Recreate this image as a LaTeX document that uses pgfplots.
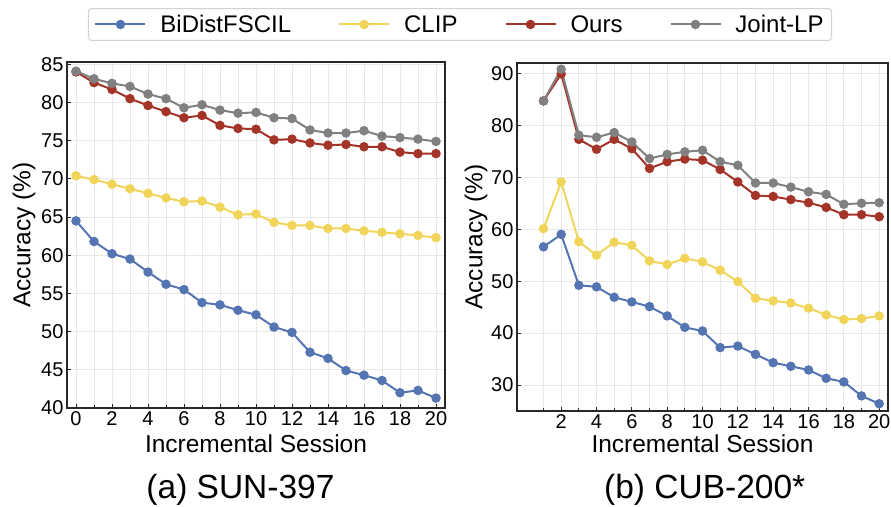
\documentclass[border=0pt]{standalone}
\usepackage{fontspec}
\setmainfont{Liberation Sans}
\usepackage{pgfplots}
\pgfplotsset{compat=1.18}
\definecolor{cblue}{RGB}{84,117,178}
\definecolor{cyellow}{RGB}{240,213,90}
\definecolor{cred}{RGB}{165,52,40}
\definecolor{cgray}{RGB}{128,128,128}
\definecolor{gridc}{RGB}{232,232,232}
\definecolor{framec}{RGB}{40,40,40}
\pgfplotsset{
  mystyle/.style={
    scale only axis,
    /pgf/number format/assume math mode=true,
    tick label style={font=\fontsize{20bp}{24bp}\selectfont},
    label style={font=\fontsize{24.5bp}{28bp}\selectfont},
    axis line style={framec, line width=1.4bp},
    grid=both,
    major grid style={gridc, line width=0.9bp},
    minor grid style={gridc, line width=0.9bp},
    tick style={framec, line width=0.8bp},
    major tick length=4bp, minor tick length=3bp,
    tick align=inside,
    tick pos=left,
    every axis plot/.append style={line width=2bp, mark=*, mark size=3.7bp},
    legend image code/.code={\draw[mark repeat=2,mark phase=2] plot coordinates {(0bp,0bp) (25bp,0bp) (50bp,0bp)};},
  }
}
\begin{document}
\begin{tikzpicture}[x=1bp,y=1bp]
\useasboundingbox (0,0) rectangle (891,507);
% ---------------- (a) SUN-397 ----------------
\begin{axis}[mystyle,
  at={(67bp,99bp)}, anchor=south west,
  width=378bp, height=346bp,
  xmin=-0.5, xmax=20.5, ymin=40, ymax=85.3,
  xtick={0,2,...,20}, minor xtick={1,3,...,19},
  ytick={40,45,...,85},
  xlabel={Incremental Session}, ylabel={Accuracy (\%)},
  xlabel style={at={(axis description cs:0.5,-0.129)}, anchor=base},
  ylabel style={at={(axis description cs:-0.1138,0.5)}, anchor=center},
  legend columns=4,
  legend style={at={(axis description cs:1.0397,1.1084)}, anchor=center,
    draw={rgb,255:red,210;green,210;blue,210}, line width=1bp, rounded corners=3bp,
    font=\fontsize{24bp}{28bp}\selectfont,
    inner xsep=6bp, inner ysep=4.5bp,
    /tikz/every even column/.append style={column sep=45bp},
    /tikz/every odd column/.append style={column sep=12bp}},
]
\addplot[color=cblue] coordinates {(0,64.5)(1,61.8)(2,60.2)(3,59.5)(4,57.8)(5,56.2)(6,55.5)(7,53.8)(8,53.5)(9,52.8)(10,52.2)(11,50.6)(12,49.9)(13,47.3)(14,46.5)(15,44.9)(16,44.3)(17,43.6)(18,42.0)(19,42.3)(20,41.3)};
\addlegendentry{BiDistFSCIL}
\addplot[color=cyellow] coordinates {(0,70.4)(1,69.9)(2,69.3)(3,68.7)(4,68.1)(5,67.5)(6,67.0)(7,67.1)(8,66.3)(9,65.3)(10,65.4)(11,64.3)(12,63.9)(13,63.9)(14,63.5)(15,63.5)(16,63.2)(17,63.0)(18,62.8)(19,62.6)(20,62.3)};
\addlegendentry{CLIP}
\addplot[color=cred] coordinates {(0,84.0)(1,82.6)(2,81.7)(3,80.5)(4,79.6)(5,78.8)(6,78.0)(7,78.3)(8,77.0)(9,76.6)(10,76.5)(11,75.1)(12,75.2)(13,74.7)(14,74.4)(15,74.5)(16,74.2)(17,74.2)(18,73.5)(19,73.3)(20,73.3)};
\addlegendentry{Ours}
\addplot[color=cgray] coordinates {(0,84.1)(1,83.1)(2,82.5)(3,82.1)(4,81.1)(5,80.5)(6,79.3)(7,79.7)(8,79.0)(9,78.6)(10,78.7)(11,78.0)(12,77.9)(13,76.4)(14,76.0)(15,76.0)(16,76.3)(17,75.6)(18,75.4)(19,75.2)(20,74.9)};
\addlegendentry{Joint-LP}
\end{axis}
% ---------------- (b) CUB-200* ----------------
\begin{axis}[mystyle,
  at={(517bp,96bp)}, anchor=south west,
  width=371bp, height=348bp,
  xmin=-0.5, xmax=20.5, ymin=25, ymax=92,
  xtick={2,4,...,20}, minor xtick={1,3,...,19},
  ytick={30,40,...,90},
  xlabel={Incremental Session}, ylabel={Accuracy (\%)},
  xlabel style={at={(axis description cs:0.5,-0.12)}, anchor=base},
  ylabel style={at={(axis description cs:-0.1105,0.5)}, anchor=center},
]
\addplot[color=cblue] coordinates {(1,56.6)(2,59.0)(3,49.2)(4,48.9)(5,46.9)(6,46.0)(7,45.1)(8,43.3)(9,41.1)(10,40.4)(11,37.2)(12,37.5)(13,35.9)(14,34.3)(15,33.6)(16,32.9)(17,31.3)(18,30.6)(19,27.9)(20,26.4)};
\addplot[color=cyellow] coordinates {(1,60.1)(2,69.1)(3,57.6)(4,55.0)(5,57.5)(6,56.9)(7,53.9)(8,53.2)(9,54.4)(10,53.7)(11,52.1)(12,49.9)(13,46.7)(14,46.2)(15,45.8)(16,44.8)(17,43.5)(18,42.6)(19,42.8)(20,43.3)};
\addplot[color=cred] coordinates {(1,84.7)(2,89.9)(3,77.3)(4,75.4)(5,77.3)(6,75.5)(7,71.7)(8,73.0)(9,73.5)(10,73.3)(11,71.5)(12,69.1)(13,66.5)(14,66.3)(15,65.7)(16,65.1)(17,64.2)(18,62.8)(19,62.8)(20,62.4)};
\addplot[color=cgray] coordinates {(1,84.7)(2,90.8)(3,78.1)(4,77.7)(5,78.6)(6,76.8)(7,73.6)(8,74.4)(9,74.9)(10,75.2)(11,73.0)(12,72.3)(13,68.9)(14,68.9)(15,68.1)(16,67.2)(17,66.7)(18,64.8)(19,65.0)(20,65.1)};
\end{axis}
\node[anchor=base, font=\fontsize{33.5bp}{38bp}\selectfont] at (240.5,8.7) {(a) SUN-397};
\node[anchor=base, font=\fontsize{33.5bp}{38bp}\selectfont] at (704.7,8.7) {(b) CUB-200*};
\end{tikzpicture}
\end{document}
